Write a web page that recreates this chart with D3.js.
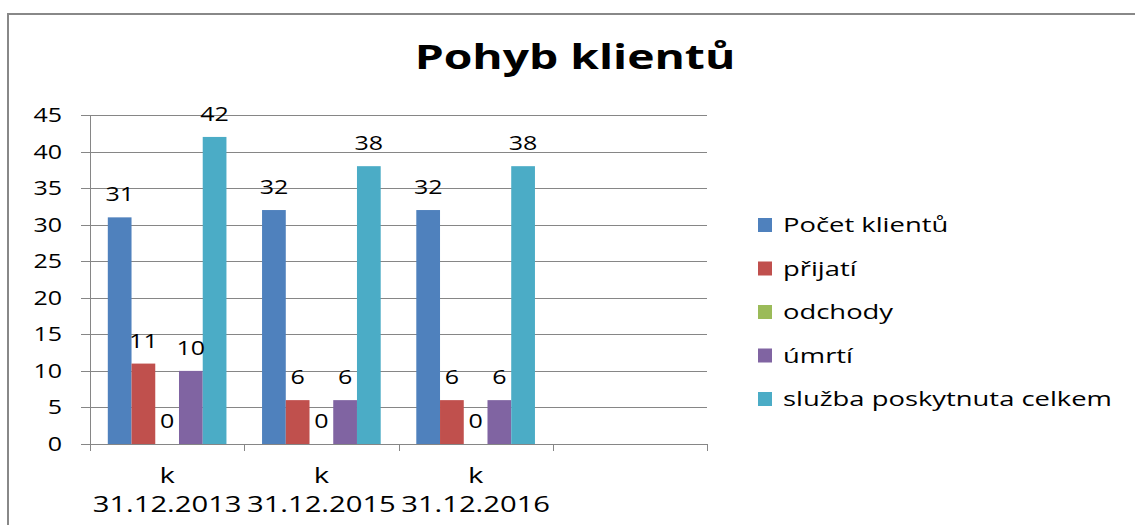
<!DOCTYPE html>
<html>
<head>
<meta charset="utf-8">
<script src="https://cdn.jsdelivr.net/npm/d3@7"></script>
<style>
  html, body { margin: 0; padding: 0; background: #fff; }
  svg { display: block; }
  text { font-family: "Open Sans", "DejaVu Sans", sans-serif; fill: #000; }
</style>
</head>
<body>
<svg id="chart" width="1135" height="525"></svg>
<script>
const title = "Pohyb klientů";
const categories = ["k|31.12.2013", "k|31.12.2015", "k|31.12.2016", ""];
const seriesNames = ["Počet klientů", "přijatí", "odchody", "úmrtí", "služba poskytnuta celkem"];
const seriesColors = ["#4F81BD", "#C0504D", "#9BBB59", "#8064A2", "#4BACC6"];
const pocetKlientu = [31, 32, 32];
const prijati = [11, 6, 6];
const odchody = [0, 0, 0];
const umrti = [10, 6, 6];
const sluzbaCelkem = [42, 38, 38];
const yTicks = [0, 5, 10, 15, 20, 25, 30, 35, 40, 45];

const seriesValues = [pocetKlientu, prijati, odchody, umrti, sluzbaCelkem];

const svg = d3.select("#chart");
const W = 1135, H = 525;
const plot = { left: 90, right: 707, top: 115, bottom: 444 };
const gridColor = "#868686";

// outer border
svg.append("rect").attr("x", 8).attr("y", 14).attr("width", W + 10).attr("height", H + 10)
  .attr("fill", "none").attr("stroke", "#888").attr("stroke-width", 2);

// helper for horizontally stretched text
function stext(g, x, y, str, size, sx, anchor, weight) {
  return g.append("text")
    .attr("transform", `translate(${x},${y}) scale(${sx},1)`)
    .attr("text-anchor", anchor || "start")
    .attr("font-size", size)
    .attr("font-weight", weight || "normal")
    .text(str);
}

// title
stext(svg, 575, 69, title, 34, 1.36, "middle", "bold");

const x0 = d3.scaleBand().domain(categories).range([plot.left, plot.right]).paddingInner(0).paddingOuter(0);
const x1 = d3.scaleBand().domain(seriesNames).range([0, x0.bandwidth()]).paddingInner(0).paddingOuter(0.75);
const y = d3.scaleLinear().domain([0, 45]).range([plot.bottom, plot.top]);

// gridlines
const gGrid = svg.append("g");
gGrid.selectAll("line").data(yTicks).join("line")
  .attr("x1", plot.left - 9).attr("x2", plot.right)
  .attr("y1", d => Math.round(y(d)) + 0.5).attr("y2", d => Math.round(y(d)) + 0.5)
  .attr("stroke", gridColor).attr("stroke-width", 1);

// y axis line
svg.append("line").attr("x1", plot.left + 0.5).attr("x2", plot.left + 0.5)
  .attr("y1", plot.top).attr("y2", plot.bottom + 7).attr("stroke", gridColor);

// x axis ticks at category boundaries
const bounds = categories.map(c => x0(c)).concat([plot.right]);
svg.append("g").selectAll("line").data(bounds).join("line")
  .attr("x1", d => Math.round(d) + 0.5).attr("x2", d => Math.round(d) + 0.5)
  .attr("y1", plot.bottom).attr("y2", plot.bottom + 7).attr("stroke", gridColor);

// y tick labels
const gY = svg.append("g");
yTicks.forEach(t => stext(gY, 62, y(t) + 7, String(t), 20, 1.25, "end"));

// x labels
const gX = svg.append("g");
categories.forEach(c => {
  if (!c) return;
  const cx = x0(c) + x0.bandwidth() / 2;
  const parts = c.split("|");
  stext(gX, cx, 483, parts[0], 21, 1.39, "middle");
  stext(gX, cx, 512, parts[1], 21, 1.39, "middle");
});

// bars
const gBars = svg.append("g");
const gLabels = svg.append("g");
seriesNames.forEach((s, si) => {
  const vals = seriesValues[si];
  vals.forEach((v, ci) => {
    const c = categories[ci];
    const bx = x0(c) + x1(s);
    if (v > 0) {
      gBars.append("rect")
        .attr("x", bx).attr("y", y(v))
        .attr("width", x1.bandwidth()).attr("height", y(0) - y(v))
        .attr("fill", seriesColors[si]);
    }
    stext(gLabels, bx + x1.bandwidth() / 2, y(v) - 16, String(v), 20, 1.25, "middle");
  });
});

// legend
const gLeg = svg.append("g");
seriesNames.forEach((s, i) => {
  const cy = 225 + i * 43.5;
  gLeg.append("rect").attr("x", 758).attr("y", cy - 7).attr("width", 14).attr("height", 14)
    .attr("fill", seriesColors[i]);
  stext(gLeg, 783, cy + 7, s, 20, 1.37, "start");
});
</script>
</body>
</html>
